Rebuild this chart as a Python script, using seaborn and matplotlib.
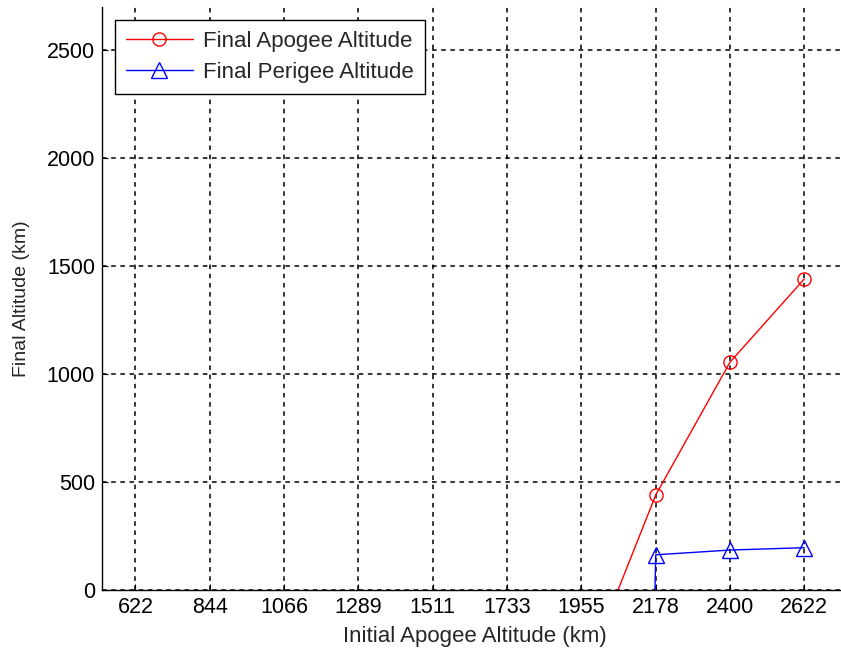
import matplotlib
matplotlib.use("Agg")
import matplotlib.pyplot as plt
import seaborn as sns
import numpy as np
import pandas as pd

# Initial apogee altitudes (km) used as x tick positions
tick_values = [622, 844, 1066, 1289, 1511, 1733, 1955, 2178, 2400, 2622]
tick_labels = ["622", "844", "1066", "1289", "1511", "1733", "1955", "2178", "2400", "2622"]

# Simulated cases (km); the first case re-enters, so its final values are negative
initial_apogee = [1955, 2178, 2400, 2622]
final_apogee = [-430, 440, 1055, 1440]
final_perigee = [-15000, 163, 185, 196]

y_ticks = [0, 500, 1000, 1500, 2000, 2500]

sns.set_style("white")
plt.rcParams["font.family"] = ["Liberation Sans", "DejaVu Sans"]

fig = plt.figure(figsize=(8.41, 6.54), dpi=100)
ax = fig.add_axes([102 / 841, 64 / 654, 745 / 841, 583 / 654])

df = pd.DataFrame({
    "initial": initial_apogee,
    "apogee": final_apogee,
    "perigee": final_perigee,
})

sns.lineplot(data=df, x="initial", y="apogee", ax=ax, color="red", lw=1.0,
             marker="o", markersize=9.5, markerfacecolor="none",
             markeredgecolor="red", markeredgewidth=1.0, sort=False,
             estimator=None, label="Final Apogee Altitude")
sns.lineplot(data=df, x="initial", y="perigee", ax=ax, color="blue", lw=1.0,
             marker="^", markersize=11, markerfacecolor="none",
             markeredgecolor="blue", markeredgewidth=1.0, sort=False,
             estimator=None, label="Final Perigee Altitude")

ax.set_xlim(522, 2750)
ax.set_ylim(0, 2700)
ax.set_xticks(tick_values)
ax.set_xticklabels(tick_labels)
ax.set_yticks(y_ticks)

ax.grid(True, color="black", linestyle=(0, (3, 3)), linewidth=1.1)
ax.set_axisbelow(True)
for side in ("top", "right"):
    ax.spines[side].set_visible(False)
for side in ("left", "bottom"):
    ax.spines[side].set_color("black")
    ax.spines[side].set_linewidth(1.0)

ax.tick_params(axis="both", direction="in", length=4, width=0.8,
               colors="black", labelsize=15.5, left=True, bottom=True)
ax.tick_params(axis="x", pad=5)
ax.tick_params(axis="y", pad=5)

ax.set_xlabel("Initial Apogee Altitude (km)", fontsize=16, labelpad=6)
ax.set_ylabel("Final Altitude (km)", fontsize=14, labelpad=12)

leg = ax.legend(loc="upper left", bbox_to_anchor=(0.0175, 0.978), fontsize=16,
                frameon=True, fancybox=False, edgecolor="black",
                handlelength=3.0, borderpad=0.5, labelspacing=0.45,
                handletextpad=0.45, borderaxespad=0.0)
leg.get_frame().set_linewidth(1.0)
leg.get_frame().set_alpha(1.0)

fig.savefig("out.png", dpi=100)
